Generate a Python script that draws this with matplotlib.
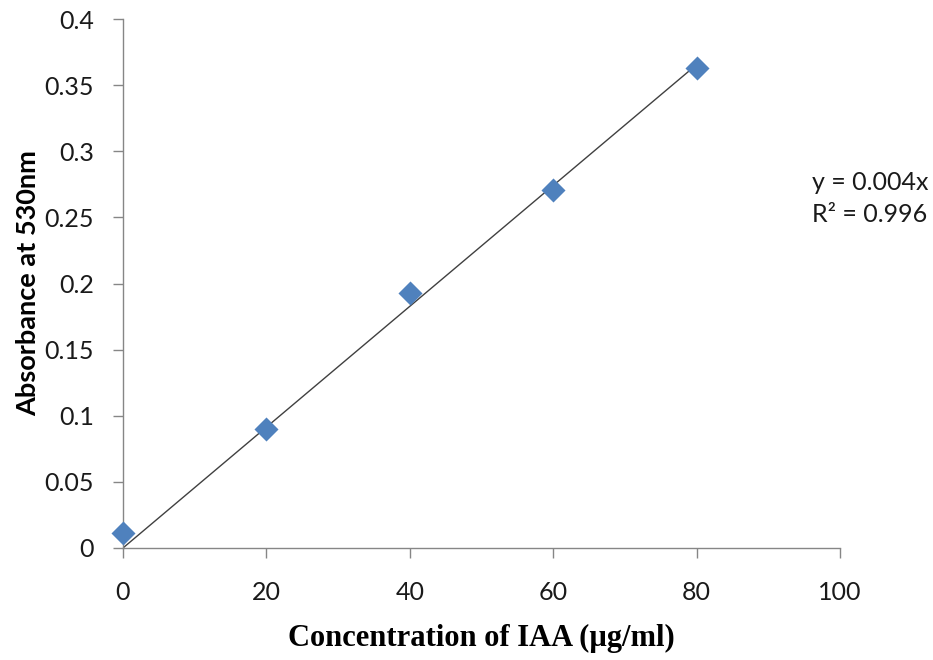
import numpy as np
import matplotlib.pyplot as plt

# IAA standard curve data
conc = [0, 20, 40, 60, 80]
absorb = [0.011, 0.090, 0.193, 0.271, 0.363]
x_ticks = [0, 20, 40, 60, 80, 100]
y_ticks = [0, 0.05, 0.1, 0.15, 0.2, 0.25, 0.3, 0.35, 0.4]
y_labels = ['0', '0.05', '0.1', '0.15', '0.2', '0.25', '0.3', '0.35', '0.4']

# linear fit forced through origin
xa = np.array(conc, dtype=float)
ya = np.array(absorb)
slope = (xa * ya).sum() / (xa * xa).sum()

plt.rcParams['font.family'] = ['Lato', 'DejaVu Sans']

fig = plt.figure(figsize=(9.33, 6.6), dpi=100)
ax = fig.add_axes([0.1318, 0.1697, 0.9003 - 0.1318, 0.9712 - 0.1697])

ax.plot([0, 80], [0, slope * 80], color='#404040', lw=1.0, zorder=2)
ax.scatter(conc, absorb, marker='D', s=150, color='#4F81BD', zorder=3,
           linewidths=0, clip_on=False)

ax.set_xlim(0, 100)
ax.set_ylim(0, 0.4)
ax.set_xticks(x_ticks)
ax.set_yticks(y_ticks)
ax.set_yticklabels(y_labels)
ax.tick_params(direction='out', length=7, width=1, color='#868686', labelsize=18,
               labelcolor='#1a1a1a')
ax.tick_params(axis='x', pad=17)
ax.tick_params(axis='y', pad=14)
for s in ['top', 'right']:
    ax.spines[s].set_visible(False)
for s in ['left', 'bottom']:
    ax.spines[s].set_color('#868686')
    ax.spines[s].set_linewidth(1)

ax.set_xlabel('Concentration of IAA (µg/ml)', family='Liberation Serif',
              fontweight='bold', fontsize=22, labelpad=14)
ax.set_ylabel('Absorbance at 530nm', fontweight='bold', fontsize=19.5, labelpad=3)

fig.text(812 / 933, 1 - 182 / 660, 'y = 0.004x', fontsize=18, va='center', color='#1a1a1a')
fig.text(812 / 933, 1 - 214 / 660, 'R² = 0.996', fontsize=18, va='center', color='#1a1a1a')

fig.savefig('out.png', dpi=100, facecolor='white')
